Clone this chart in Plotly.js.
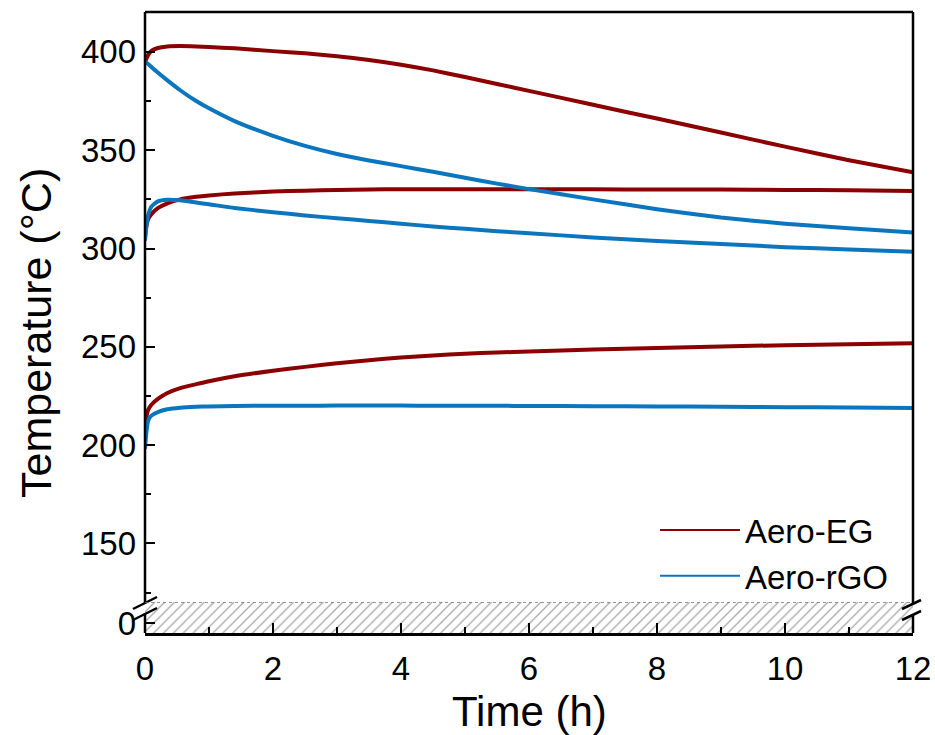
<!DOCTYPE html>
<html><head><meta charset="utf-8">
<script src="https://cdn.plot.ly/plotly-3.0.1.min.js"></script>
<style>html,body{margin:0;padding:0;background:#fff}</style>
</head><body><div id="chart" style="width:935px;height:735px"></div>
<script>
// time (h)
const timeH = [0, 0.02, 0.05, 0.1, 0.2, 0.35, 0.55, 0.8, 1.0, 1.4, 2, 2.5, 3, 3.5, 4, 4.5, 5, 5.5, 6, 7, 8, 9, 10, 11, 12];
// Aero-EG temperatures (°C)
const egHigh = [395, 396.5, 398.5, 400.5, 402, 402.8, 403, 402.8, 402.5, 401.8, 400.4, 399.3, 397.8, 395.9, 393.5, 390.6, 387.2, 383.7, 380.2, 373.1, 366.1, 359, 351.8, 344.9, 338.8];
const egMid  = [306, 311, 315, 317.5, 320.5, 323, 325, 326.3, 327, 328, 329, 329.4, 329.8, 330, 330.2, 330.2, 330.2, 330.2, 330.2, 330.1, 330, 330, 329.8, 329.6, 329.3];
const egLow  = [208, 214, 218, 220.5, 223.5, 226.5, 229, 231, 232.5, 235, 237.8, 239.8, 241.6, 243.2, 244.6, 245.6, 246.5, 247.1, 247.6, 248.6, 249.4, 250.2, 250.8, 251.3, 251.8];
// Aero-rGO temperatures (°C)
const rgoHigh = [395, 394.6, 393.8, 392.3, 389.5, 385.5, 380.5, 375, 371.3, 364.8, 357.3, 352.2, 348.1, 344.8, 341.9, 339, 336, 333, 330.2, 325, 320, 315.8, 312.6, 310.3, 308.2];
const rgoMid  = [304, 311, 317, 321.3, 324, 324.8, 324.5, 323.4, 322.5, 320.6, 318.5, 316.8, 315.4, 314, 312.6, 311.2, 310, 308.8, 307.8, 305.6, 303.8, 302.3, 300.7, 299.5, 298.4];
const rgoLow  = [198, 206, 212.5, 215, 216.8, 218.2, 219, 219.5, 219.7, 219.9, 220, 220, 220.1, 220.1, 220.1, 220, 220, 220, 219.9, 219.8, 219.7, 219.5, 219.3, 219.1, 218.9];

const seriesNames = ['Aero-EG', 'Aero-rGO'];
const yTickVals = [150, 200, 250, 300, 350, 400];
const yMinorVals = [125, 175, 225, 275, 325, 375];
const xTickVals = [0, 2, 4, 6, 8, 10, 12];
const breakTickVals = [0];
const hatchX = [0, 12];
const hatchY = [-10, 21];

const cEG = '#8b0000', cRGO = '#0b76bd';
const FONT = 'Liberation Sans, Arial, sans-serif';

function curve(y, color){
  return {x: timeH, y: y, type:'scatter', mode:'lines', xaxis:'x', yaxis:'y',
    line:{color:color, width:4, shape:'spline', smoothing:0.5}, showlegend:false, hoverinfo:'skip'};
}
const traces = [
  {x:[hatchX[0],hatchX[1],hatchX[1],hatchX[0],hatchX[0]], y:[hatchY[0],hatchY[0],hatchY[1],hatchY[1],hatchY[0]],
   type:'scatter', mode:'none', fill:'toself', xaxis:'x', yaxis:'y2', showlegend:false, hoverinfo:'skip',
   fillcolor:'rgba(0,0,0,0)',
   fillpattern:{shape:'/', fgcolor:'#a8a8a8', bgcolor:'#ffffff', size:7, solidity:0.18}},
  curve(egHigh, cEG), curve(egMid, cEG), curve(egLow, cEG),
  curve(rgoHigh, cRGO), curve(rgoMid, cRGO), curve(rgoLow, cRGO),
  {x:[null], y:[null], type:'scatter', mode:'lines', name:seriesNames[0], legendgroup:'a', line:{color:cEG, width:2}},
  {x:[null], y:[null], type:'scatter', mode:'lines', name:seriesNames[1], legendgroup:'b', line:{color:cRGO, width:2}}
];

// paper coordinate helpers for plot area (top 12px, bottom 633px, left 145, right 913)
const py = p => (633 - p) / 621;
const px = p => (p - 145) / 768;
const axisLine = {color:'#000', width:2.5};
const shapes = [
  {type:'line', xref:'paper', yref:'paper', x0:0, x1:1, y0:1, y1:1, line:axisLine},
  {type:'line', xref:'paper', yref:'paper', x0:0, x1:0, y0:1, y1:py(603), line:axisLine},
  {type:'line', xref:'paper', yref:'paper', x0:0, x1:0, y0:py(613), y1:0, line:axisLine},
  {type:'line', xref:'paper', yref:'paper', x0:1, x1:1, y0:1, y1:py(604), line:axisLine},
  {type:'line', xref:'paper', yref:'paper', x0:1, x1:1, y0:py(614), y1:0, line:axisLine},
  // break marks
  {type:'line', xref:'paper', yref:'paper', x0:px(133), x1:px(157), y0:py(609), y1:py(597), line:axisLine},
  {type:'line', xref:'paper', yref:'paper', x0:px(133), x1:px(157), y0:py(620), y1:py(608), line:axisLine},
  {type:'line', xref:'paper', yref:'paper', x0:px(902), x1:px(921), y0:py(609), y1:py(600), line:axisLine},
  {type:'line', xref:'paper', yref:'paper', x0:px(902), x1:px(921), y0:py(620), y1:py(611), line:axisLine},
  // dotted top edge of hatch
  {type:'line', xref:'x', yref:'y2', x0:hatchX[0], x1:hatchX[1], y0:hatchY[1], y1:hatchY[1], line:{color:'#777', width:1.5, dash:'dot'}}
];

const layout = {
  width:935, height:735,
  margin:{l:145, r:22, t:12, b:102, pad:0},
  paper_bgcolor:'#fff', plot_bgcolor:'rgba(0,0,0,0)',
  font:{family:FONT, color:'#000', size:33},
  showlegend:true,
  legend:{x:px(655), xanchor:'left', y:py(502), yanchor:'top', bgcolor:'rgba(0,0,0,0)',
    font:{family:FONT, size:33, color:'#000'}, itemwidth:80, tracegroupgap:0},
  xaxis:{anchor:'y2', range:[0,12], tickvals:xTickVals, ticks:'inside', ticklen:10, tickwidth:2, tickcolor:'#000',
    minor:{dtick:1, ticks:'inside', ticklen:6, tickwidth:2, tickcolor:'#000'},
    showline:true, linecolor:'#000', linewidth:2.5, showgrid:false, zeroline:false,
    tickfont:{family:FONT, size:33}, ticklabelstandoff:5},
  yaxis:{anchor:'x', domain:[py(602), 1], range:[120.2, 420.3], tickvals:yTickVals,
    ticks:'inside', ticklen:10, tickwidth:2, tickcolor:'#000',
    minor:{tickvals:yMinorVals, ticks:'inside', ticklen:6, tickwidth:2, tickcolor:'#000'},
    showline:false, showgrid:false, zeroline:false, tickfont:{family:FONT, size:33}, ticklabelstandoff:8},
  yaxis2:{anchor:'x', domain:[0, py(602)], range:[hatchY[0], hatchY[1]], tickvals:breakTickVals, ticktext:['0'],
    ticks:'inside', ticklen:10, tickwidth:2, tickcolor:'#000', showline:false, showgrid:false, zeroline:false,
    tickfont:{family:FONT, size:33}, ticklabelstandoff:8},
  shapes:shapes,
  annotations:[
    {text:'Temperature (°C)', xref:'paper', yref:'paper', x:px(36), y:py(333), xanchor:'center', yanchor:'middle',
     textangle:-90, showarrow:false, font:{family:FONT, size:43, color:'#000'}},
    {text:'Time (h)', xref:'paper', yref:'paper', x:0.5, y:py(711), xanchor:'center', yanchor:'middle',
     showarrow:false, font:{family:FONT, size:42, color:'#000'}}
  ]
};
Plotly.newPlot('chart', traces, layout, {staticPlot:true, displayModeBar:false});
</script></body></html>
